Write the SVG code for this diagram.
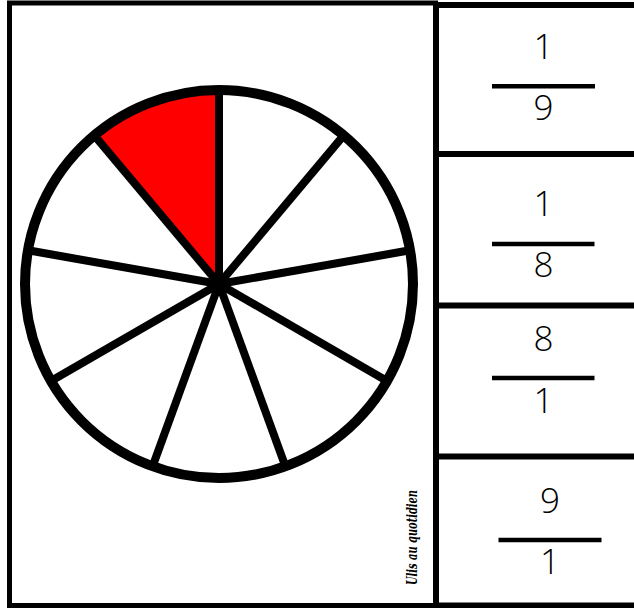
<svg xmlns="http://www.w3.org/2000/svg" width="634" height="608" viewBox="0 0 634 608">
  <style>
    .frame { fill: none; stroke: #000; stroke-width: 5; }
    .sep { stroke: #000; stroke-width: 6; }
    .spoke { stroke: #000; stroke-width: 8; stroke-linecap: butt; }
    .bar { stroke: #000; stroke-width: 4.5; }
    .num { font-family: "Open Sans", "Liberation Sans", sans-serif; font-weight: 300; font-size: 35px; fill: #000; text-anchor: middle; }
    .sig { font-family: "DejaVu Serif", "Liberation Serif", serif; font-style: italic; font-weight: bold; font-size: 14px; fill: #000; }
  </style>
  <rect width="634" height="608" fill="#fff"/>

  <g id="left-panel">
    <rect class="frame" x="9.5" y="3" width="426" height="602.5"/>
    <g id="circle">
      <circle cx="219" cy="284" r="194" fill="#fff"/>
      <path d="M219,284 L94.3,135.4 A194,194 0 0 1 219,90 Z" fill="#ff0000"/>
      <g>
        <line class="spoke" x1="219" y1="284" x2="219" y2="90"/>
        <line class="spoke" x1="219" y1="284" x2="343.7" y2="135.4"/>
        <line class="spoke" x1="219" y1="284" x2="410.1" y2="250.3"/>
        <line class="spoke" x1="219" y1="284" x2="387.0" y2="381.0"/>
        <line class="spoke" x1="219" y1="284" x2="285.4" y2="466.3"/>
        <line class="spoke" x1="219" y1="284" x2="152.6" y2="466.3"/>
        <line class="spoke" x1="219" y1="284" x2="51.0" y2="381.0"/>
        <line class="spoke" x1="219" y1="284" x2="27.9" y2="250.3"/>
        <line class="spoke" x1="219" y1="284" x2="94.3" y2="135.4"/>
      </g>
      <circle cx="219" cy="284" r="194" fill="none" stroke="#000" stroke-width="10"/>
    </g>
    <text class="sig" transform="translate(417,585) rotate(-90)" textLength="95" lengthAdjust="spacingAndGlyphs">Ulis au quotidien</text>
  </g>

  <g id="right-column">
    <line class="sep" x1="436" y1="5" x2="634" y2="5"/>
    <line class="sep" x1="436" y1="154" x2="634" y2="154"/>
    <line class="sep" x1="436" y1="305.5" x2="634" y2="305.5"/>
    <line class="sep" x1="436" y1="456.5" x2="634" y2="456.5"/>
    <line class="sep" x1="436" y1="605.5" x2="634" y2="605.5"/>
    <line class="sep" x1="436" y1="2" x2="436" y2="608"/>
  </g>

  <g id="box-1">
    <text class="num" x="543.5" y="59">1</text>
    <line class="bar" x1="492" y1="86.3" x2="595" y2="86.3"/>
    <text class="num" x="543.5" y="120">9</text>
  </g>
  <g id="box-2">
    <text class="num" x="543.5" y="216">1</text>
    <line class="bar" x1="492" y1="244" x2="594.5" y2="244"/>
    <text class="num" x="543.5" y="276.5">8</text>
  </g>
  <g id="box-3">
    <text class="num" x="543.5" y="350.5">8</text>
    <line class="bar" x1="492" y1="378" x2="594.5" y2="378"/>
    <text class="num" x="543.5" y="412.5">1</text>
  </g>
  <g id="box-4">
    <text class="num" x="550" y="512.5">9</text>
    <line class="bar" x1="498.5" y1="540" x2="601.5" y2="540"/>
    <text class="num" x="550" y="574">1</text>
  </g>

  <g id="connectors"></g>
</svg>
